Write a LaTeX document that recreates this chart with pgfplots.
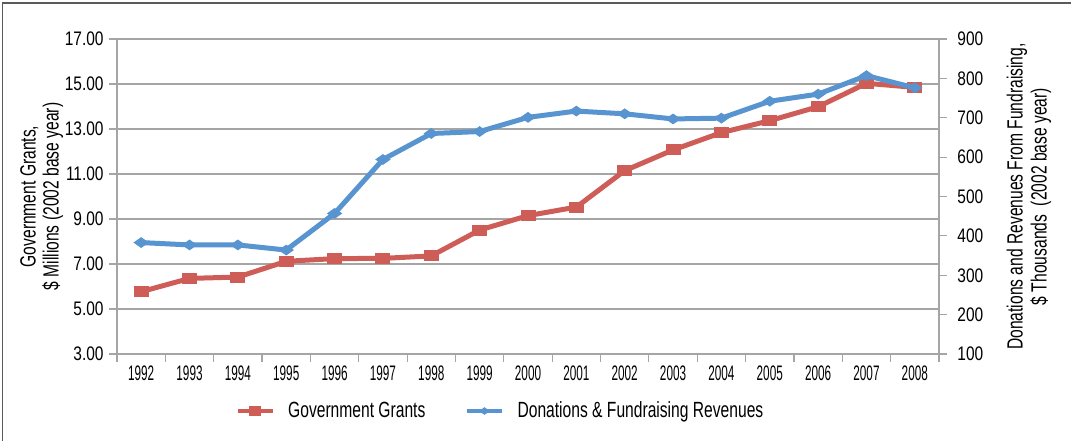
\documentclass[border=0pt]{standalone}
\usepackage{fontspec}
\setmainfont{Liberation Sans}
\newfontfamily\xtfont[FakeStretch=0.56]{Liberation Sans}
\newfontfamily\ytfont[FakeStretch=0.79]{Liberation Sans}
\newfontfamily\lbfont[FakeStretch=0.71]{Liberation Sans}
\usepackage{pgfplots}
\usepackage{pgfplotstable}
\pgfplotsset{compat=1.18}
\definecolor{gred}{RGB}{207,93,87}
\definecolor{dblue}{RGB}{88,148,208}
\definecolor{gridgray}{RGB}{165,165,165}
\definecolor{framegray}{RGB}{90,90,90}

\pgfplotstableread{
x grants donations
0 5.77 383
1 6.36 377
2 6.42 377
3 7.12 364
4 7.24 457
5 7.25 594
6 7.36 660
7 8.51 665
8 9.15 701
9 9.53 717
10 11.15 710
11 12.07 697
12 12.84 699
13 13.37 742
14 13.99 760
15 15.03 807
16 14.85 776
}\datatable

\begin{document}
\begin{tikzpicture}
\useasboundingbox (0,0) rectangle (535.5pt,220.5pt);
\draw[framegray, line width=0.9pt] (1.2pt,0pt) -- (1.2pt,219pt) -- (535.5pt,219pt);
\begin{axis}[
  at={(58.5pt,43.5pt)}, anchor=south west,
  scale only axis, width=411pt, height=157.5pt,
  xmin=-0.5, xmax=16.5, ymin=3, ymax=17,
  axis x line*=bottom, axis y line*=left,
  axis line style={gridgray, line width=0.6pt},
  every tick/.style={gridgray, line width=0.6pt},
  tick align=outside,
  x tick label as interval,
  xtick={-0.5,0.5,1.5,2.5,3.5,4.5,5.5,6.5,7.5,8.5,9.5,10.5,11.5,12.5,13.5,14.5,15.5,16.5},
  xticklabels={1992,1993,1994,1995,1996,1997,1998,1999,2000,2001,2002,2003,2004,2005,2006,2007,2008},
  ytick={3,5,7,9,11,13,15,17},
  major tick length=4pt,
  ymajorgrids, grid style={gridgray, line width=0.6pt},
  xticklabel style={font=\fontsize{10.5}{10.5}\xtfont, anchor=north, inner sep=0pt, yshift=-1.5pt},
  yticklabel style={font=\fontsize{9.8}{10}\ytfont, anchor=east, inner sep=0pt, xshift=-2.5pt,
    /pgf/number format/.cd, fixed, fixed zerofill, precision=2, assume math mode=true},
  ylabel={Government Grants,\\\$ Millions (2002 base year)},
  ylabel style={at={(axis description cs:-0.0915,0.5)}, anchor=center, align=center,
    font=\fontsize{11}{11.5}\lbfont},
]
\addplot[gred, line width=2.5pt, mark=square*, mark size=2.5pt,
  mark options={xscale=1.4, solid, line width=0.5pt}] table[x=x, y=grants] {\datatable};
\end{axis}
\begin{axis}[
  at={(58.5pt,43.5pt)}, anchor=south west,
  scale only axis, width=411pt, height=157.5pt,
  xmin=-0.5, xmax=16.5, ymin=100, ymax=900,
  axis y line*=right, axis x line=none,
  axis line style={gridgray, line width=0.6pt},
  every tick/.style={gridgray, line width=0.6pt},
  tick align=outside, major tick length=4pt,
  ytick={100,200,300,400,500,600,700,800,900},
  yticklabel style={font=\fontsize{9.8}{10}\ytfont, anchor=west, inner sep=0pt, xshift=5pt,
    /pgf/number format/.cd, assume math mode=true},
  ylabel={Donations and Revenues From Fundraising,\\\$ Thousands\ \ (2002 base year)},
  ylabel style={at={(axis description cs:1.1095,0.5)}, anchor=center, align=center,
    font=\fontsize{11}{12}\lbfont},
  legend columns=2,
  legend style={at={(axis description cs:0.137,-0.181)}, anchor=west, draw=none, fill=none,
    font=\fontsize{11}{12}\lbfont,
    /tikz/every odd column/.append style={column sep=5pt},
    /tikz/every even column/.append style={column sep=18pt}},
  legend image code/.code={\draw[#1, line width=1.6pt, mark size=1.6pt, mark repeat=2, mark phase=2]
    plot coordinates {(0pt,0pt) (8.75pt,0pt) (17.5pt,0pt)};},
]
\addlegendimage{gred, line width=2.4pt, mark=square*, mark options={xscale=1.4, solid}}
\addlegendentry{Government Grants}
\addplot[dblue, line width=2.5pt, mark=diamond*, mark size=2.4pt,
  mark options={xscale=1.9, solid, line width=0.5pt}] table[x=x, y=donations] {\datatable};
\addlegendentry{Donations \& Fundraising Revenues}
\end{axis}
\end{tikzpicture}
\end{document}
